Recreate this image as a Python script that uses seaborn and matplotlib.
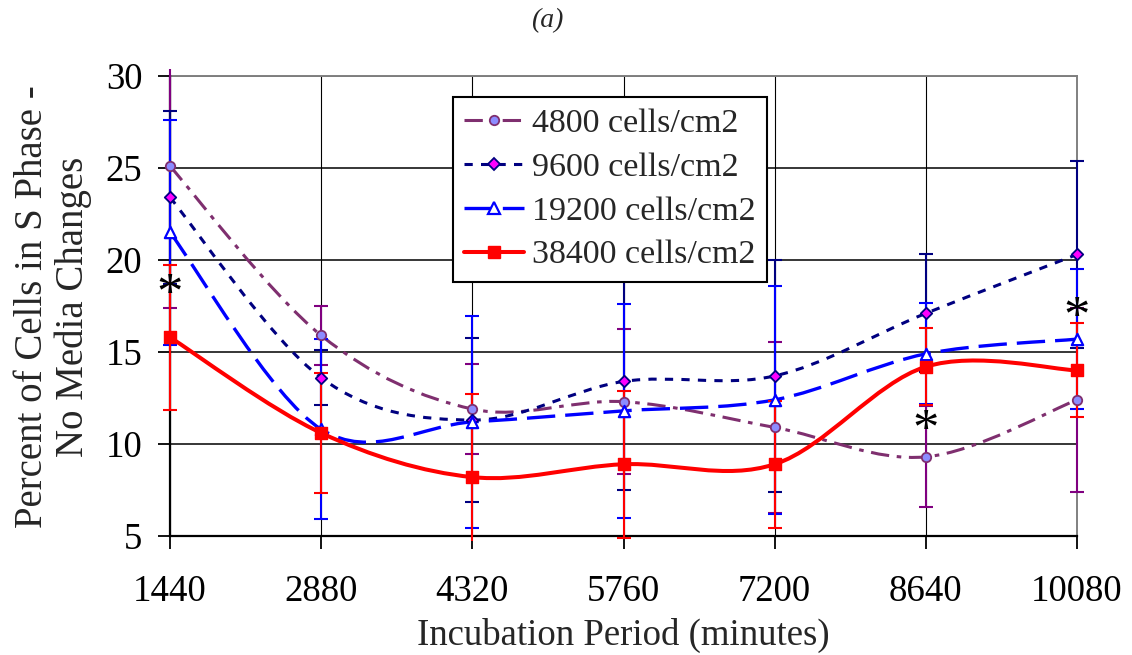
import numpy as np
import matplotlib
matplotlib.use("Agg")
import matplotlib.pyplot as plt
from matplotlib.path import Path
from matplotlib.patches import PathPatch, Rectangle
from matplotlib.lines import Line2D
import seaborn as sns

# Incubation periods (minutes)
periods = [1440, 2880, 4320, 5760, 7200, 8640, 10080]
period_labels = ["1440", "2880", "4320", "5760", "7200", "8640", "10080"]

# Percent of cells in S phase, by seeding density
names = ["4800 cells/cm2", "9600 cells/cm2", "19200 cells/cm2", "38400 cells/cm2"]
s4800 = [25.1, 15.9, 11.9, 12.3, 10.9, 9.3, 12.4]
s9600 = [23.4, 13.6, 11.3, 13.4, 13.7, 17.1, 20.3]
s19200 = [21.5, 10.8, 11.2, 11.8, 12.4, 14.9, 15.7]
s38400 = [15.8, 10.6, 8.2, 8.9, 8.9, 14.2, 14.0]

# Error bar half-widths
e4800 = [7.7, 1.6, 2.45, 3.95, 4.65, 2.75, 5.0]
e9600 = [4.7, 1.5, 4.45, 5.9, 6.3, 3.2, 5.1]
e19200 = [6.1, 4.9, 5.75, 5.8, 6.2, 2.75, 3.8]
e38400 = [3.95, 3.25, 4.5, 4.0, 3.45, 2.1, 2.55]

# Significance marks
star_x = [1440, 8640, 10080]
star_y = [18.7, 11.3, 17.45]

sns.set_theme(style="white")
plt.rcParams["font.family"] = ["Liberation Serif", "DejaVu Serif"]

styles = [
    dict(line="#7F2F6F", err="#800080", lw=2.2, dash=(0, (6, 2.5, 1.5, 2.5)),
         marker="o", mfc="#8C8CFF", mec="#7F2F6F", ms=46, mew=1.3),
    dict(line="#000080", err="#000080", lw=2.2, dash=(0, (2.7, 2.7)),
         marker="D", mfc="#FF00FF", mec="#000080", ms=34, mew=1.3),
    dict(line="#0000FF", err="#0000FF", lw=2.4, dash=(0, (8.5, 3)),
         marker="^", mfc="white", mec="#0000FF", ms=66, mew=1.6),
    dict(line="#FF0000", err="#FF0000", lw=2.9, dash="solid",
         marker="s", mfc="#FF0000", mec="#FF0000", ms=66, mew=1.0),
]
series = [s4800, s9600, s19200, s38400]
errors = [e4800, e9600, e19200, e38400]


def smooth_path(xs, ys):
    """Cubic Bezier path through the points (Catmull-Rom style tangents)."""
    pts = np.column_stack([xs, ys]).astype(float)
    n = len(pts)
    verts = [pts[0]]
    codes = [Path.MOVETO]
    for i in range(n - 1):
        p0 = pts[max(i - 1, 0)]
        p1 = pts[i]
        p2 = pts[i + 1]
        p3 = pts[min(i + 2, n - 1)]
        verts += [p1 + (p2 - p0) / 6.0, p2 - (p3 - p1) / 6.0, p2]
        codes += [Path.CURVE4] * 3
    return Path(verts, codes)


fig = plt.figure(figsize=(11.32, 6.55), dpi=100)
ax = fig.add_axes([170 / 1132, 1 - 536 / 655, 907 / 1132, 460 / 655])

ax.set_xlim(1440, 10080)
ax.set_ylim(5, 30)
ax.set_axisbelow(True)

# clipping region slightly larger than the axes so edge bars stay whole
clip_rect = Rectangle((-0.02, -0.01), 1.04, 1.025, transform=ax.transAxes,
                      facecolor="none", edgecolor="none")
ax.add_patch(clip_rect)

for k, (vals, errs, st) in enumerate(zip(series, errors, styles)):
    patch = PathPatch(smooth_path(periods, vals), fill=False,
                      edgecolor=st["line"], lw=st["lw"], linestyle=st["dash"],
                      capstyle="butt", joinstyle="round", zorder=3 + k * 0.1)
    ax.add_patch(patch)

for k, (vals, errs, st) in enumerate(zip(series, errors, styles)):
    eb = ax.errorbar(periods, vals, yerr=errs, fmt="none", ecolor=st["err"],
                     elinewidth=1.5, capsize=5, capthick=1.5, zorder=4 + k * 0.1)
    for art in list(eb.lines[1]) + list(eb.lines[2]):
        art.set_clip_path(clip_rect)

for k, (vals, st) in enumerate(zip(series, styles)):
    sns.scatterplot(x=periods, y=vals, ax=ax, marker=st["marker"], s=st["ms"],
                    color=st["mfc"], edgecolor=st["mec"], linewidth=st["mew"],
                    zorder=6 + k * 0.1, clip_on=False, legend=False)

star_fs = 38
for sx, sy in zip(star_x, star_y):
    ax.annotate("*", xy=(sx, sy), xytext=(0, -0.47 * star_fs),
                textcoords="offset points", fontsize=star_fs,
                ha="center", va="baseline", color="black", zorder=8)

# grid and frame
ax.set_yticks([5, 10, 15, 20, 25, 30])
ax.set_xticks(periods)
ax.set_xticklabels(period_labels)
ax.yaxis.grid(True, color="black", lw=1.1)
ax.xaxis.grid(True, color="black", lw=0.8)
for side in ("left", "bottom"):
    ax.spines[side].set_color("black")
    ax.spines[side].set_linewidth(1.6)
for side in ("top", "right"):
    ax.spines[side].set_color("#808080")
    ax.spines[side].set_linewidth(1.4)
    ax.spines[side].set_zorder(2)

ax.tick_params(axis="both", direction="out", length=9, width=1.3,
               color="black", labelsize=26.5, labelcolor="black")
ax.tick_params(axis="y", pad=11, left=True)
ax.tick_params(axis="x", pad=19, bottom=True)

ax.set_xlabel("Incubation Period (minutes)", fontsize=26.5, labelpad=6)
fig.text(53 / 1132, 1 - 307 / 655, "Percent of Cells in S Phase -\nNo Media Changes",
         rotation=90, ha="center", va="center", fontsize=28,
         multialignment="center", linespacing=1.1)
fig.text(547 / 1132, 1 - 21 / 655, "(a)", ha="center", va="center",
         fontsize=20, style="italic")

handles = []
for st in styles:
    handles.append(Line2D([], [], color=st["line"], lw=st["lw"], linestyle=st["dash"],
                          marker=st["marker"], markerfacecolor=st["mfc"],
                          markeredgecolor=st["mec"], markeredgewidth=st["mew"],
                          markersize=np.sqrt(st["ms"]), dash_capstyle="butt"))
leg = ax.legend(handles, names, loc="upper left", bbox_to_anchor=(0.312, 0.954),
                fontsize=24.5, frameon=True, fancybox=False, framealpha=1,
                edgecolor="black", handlelength=1.75, handletextpad=0.25,
                labelspacing=0.38, borderpad=0.33, borderaxespad=0)
leg.get_frame().set_linewidth(1.5)
leg.set_zorder(10)

fig.savefig("out.png", dpi=100)
